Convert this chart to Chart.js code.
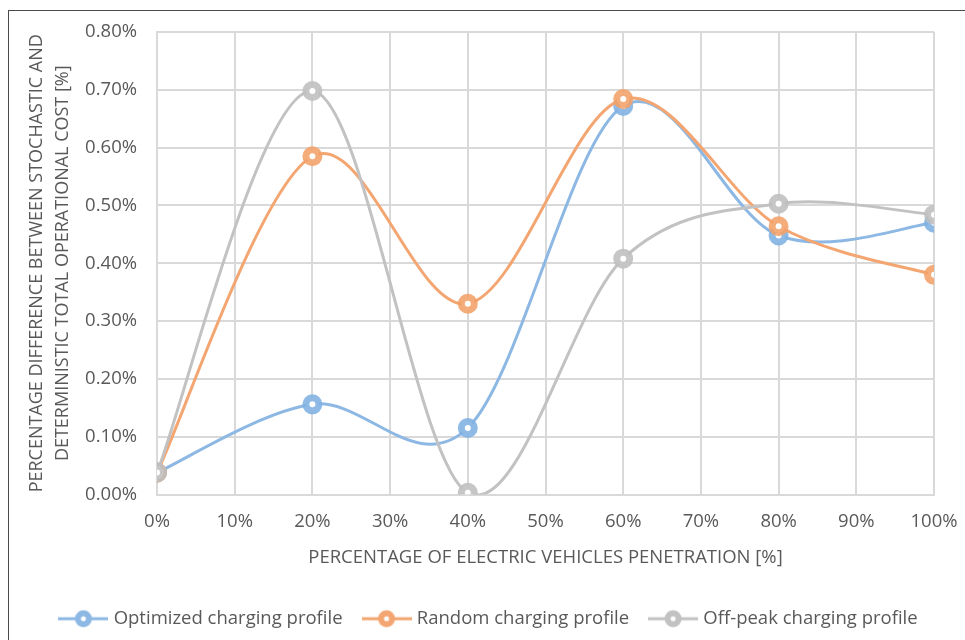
<!DOCTYPE html>
<html>
<head>
<meta charset="utf-8">
<script src="https://cdn.jsdelivr.net/npm/chart.js@4/dist/chart.umd.min.js"></script>
<style>
  html, body { margin: 0; padding: 0; background: #ffffff; overflow: hidden; }
  body { width: 965px; height: 640px; position: relative; }
  #frame { position: absolute; left: 8px; top: 10px; width: 1000px; height: 700px;
           border-left: 1.5px solid #4a4a4a; border-top: 1.5px solid #4a4a4a; box-sizing: border-box; }
  #wrap { position: absolute; left: 0; top: 0; width: 965px; height: 640px; }
</style>
</head>
<body>
<div id="frame"></div>
<div id="wrap"><canvas id="chart" width="965" height="640"></canvas></div>
<script>
// EV penetration levels (%) and cost differences (%) per charging strategy
const penetration = [0, 20, 40, 60, 80, 100];
const optimizedProfile = [0.038, 0.156, 0.115, 0.672, 0.448, 0.470];
const randomProfile    = [0.038, 0.585, 0.330, 0.684, 0.464, 0.380];
const offPeakProfile   = [0.038, 0.698, 0.003, 0.408, 0.503, 0.484];
const seriesNames = ['Optimized charging profile', 'Random charging profile', 'Off-peak charging profile'];
const xTicks = [0, 10, 20, 30, 40, 50, 60, 70, 80, 90, 100];
const yTicks = [0, 0.1, 0.2, 0.3, 0.4, 0.5, 0.6, 0.7, 0.8];

const colors = ['#8DB8E4', '#F3A671', '#C2C2C2'];
const markerColors = ['rgba(128,177,226,0.88)', 'rgba(242,160,104,0.88)', 'rgba(190,190,190,0.88)'];
const FONT = "'Open Sans', 'Noto Sans', sans-serif";
const TEXT = '#595959';
const FS = 18.5;

function toPoints(values) {
  return penetration.map((x, i) => ({ x: x, y: values[i] }));
}

// small line-with-marker swatch used as the legend symbol
function legendSwatch(color) {
  const c = document.createElement('canvas');
  c.width = 50; c.height = 22;
  const g = c.getContext('2d');
  g.strokeStyle = color; g.lineWidth = 3;
  g.beginPath(); g.moveTo(0, 11); g.lineTo(50, 11); g.stroke();
  g.beginPath(); g.arc(25, 11, 5.5, 0, Math.PI * 2);
  g.fillStyle = '#ffffff'; g.fill();
  g.lineWidth = 6; g.stroke();
  return c;
}
const swatches = colors.map(legendSwatch);

function series(i, values, order) {
  return {
    label: seriesNames[i],
    data: toPoints(values),
    borderColor: colors[i],
    backgroundColor: '#ffffff',
    borderWidth: 3,
    pointRadius: 6.5,
    pointBorderWidth: 7,
    pointBackgroundColor: '#ffffff',
    pointBorderColor: markerColors[i],
    tension: 0.33,
    order: order
  };
}

// Smoothed lines as uniform Catmull-Rom splines: each tangent is (next - prev) / 6,
// with the end points using themselves as their missing neighbour.
const catmullRom = {
  id: 'catmullRom',
  beforeDatasetDraw(chart, args) {
    const line = args.meta.dataset;
    const pts = args.meta.data;
    if (!line || !pts.length) return;
    line.updateControlPoints(chart.chartArea, 'x');
    for (let i = 0; i < pts.length; i++) {
      const p = pts[i];
      const prev = pts[i - 1] || p;
      const next = pts[i + 1] || p;
      const dx = (next.x - prev.x) / 6;
      const dy = (next.y - prev.y) / 6;
      p.cp1x = p.x - dx; p.cp1y = p.y - dy;
      p.cp2x = p.x + dx; p.cp2y = p.y + dy;
    }
  }
};

// nudge the legend row to the right
const legendShift = {
  id: 'legendShift',
  beforeDraw(chart) {
    if (chart.legend) { chart.legend.left += 18; chart.legend.right += 18; }
  }
};

new Chart(document.getElementById('chart'), {
  type: 'line',
  plugins: [catmullRom, legendShift],
  data: {
    datasets: [
      series(0, optimizedProfile, 3),
      series(1, randomProfile, 2),
      series(2, offPeakProfile, 1)
    ]
  },
  options: {
    responsive: false,
    animation: false,
    devicePixelRatio: 1,
    layout: { padding: { left: 10, top: 32, right: 31, bottom: 2 } },
    plugins: {
      tooltip: { enabled: false },
      legend: {
        position: 'bottom',
        labels: {
          usePointStyle: true,
          pointStyleWidth: 42,
          padding: 23,
          color: TEXT,
          font: { family: FONT, size: FS },
          generateLabels: function (chart) {
            return chart.data.datasets.map((ds, i) => ({
              text: ds.label,
              pointStyle: swatches[i],
              fillStyle: colors[i],
              strokeStyle: colors[i],
              lineWidth: 0,
              hidden: false,
              datasetIndex: i,
              fontColor: TEXT
            }));
          }
        }
      }
    },
    scales: {
      x: {
        type: 'linear',
        min: 0, max: 100,
        afterBuildTicks: s => { s.ticks = xTicks.map(v => ({ value: v })); },
        afterFit: s => { s.height = 92; s.paddingLeft = 0; s.paddingRight = 0; },
        grid: { color: '#D9D9D9', lineWidth: 2, drawTicks: false },
        border: { color: '#D9D9D9', width: 2 },
        ticks: { color: TEXT, padding: 16, font: { family: FONT, size: FS }, maxRotation: 0,
                 callback: v => v + '%' },
        title: { display: true, text: 'PERCENTAGE OF ELECTRIC VEHICLES PENETRATION [%]', color: TEXT,
                 font: { family: FONT, size: FS }, padding: { top: 10, bottom: 18 } }
      },
      y: {
        min: 0, max: 0.8,
        afterBuildTicks: s => { s.ticks = yTicks.map(v => ({ value: v })); },
        afterFit: s => { s.width = 147; },
        grid: { color: '#D9D9D9', lineWidth: 2, drawTicks: false },
        border: { color: '#D9D9D9', width: 2 },
        ticks: { color: TEXT, padding: 20, font: { family: FONT, size: FS },
                 callback: v => v.toFixed(2) + '%' },
        title: { display: true,
                 text: ['PERCENTAGE DIFFERENCE BETWEEN STOCHASTIC AND', 'DETERMINISTIC TOTAL OPERATIONAL COST [%]'],
                 color: TEXT, font: { family: FONT, size: 18, lineHeight: 1.44 }, padding: { top: 14, bottom: 0 } }
      }
    }
  }
});
</script>
</body>
</html>
